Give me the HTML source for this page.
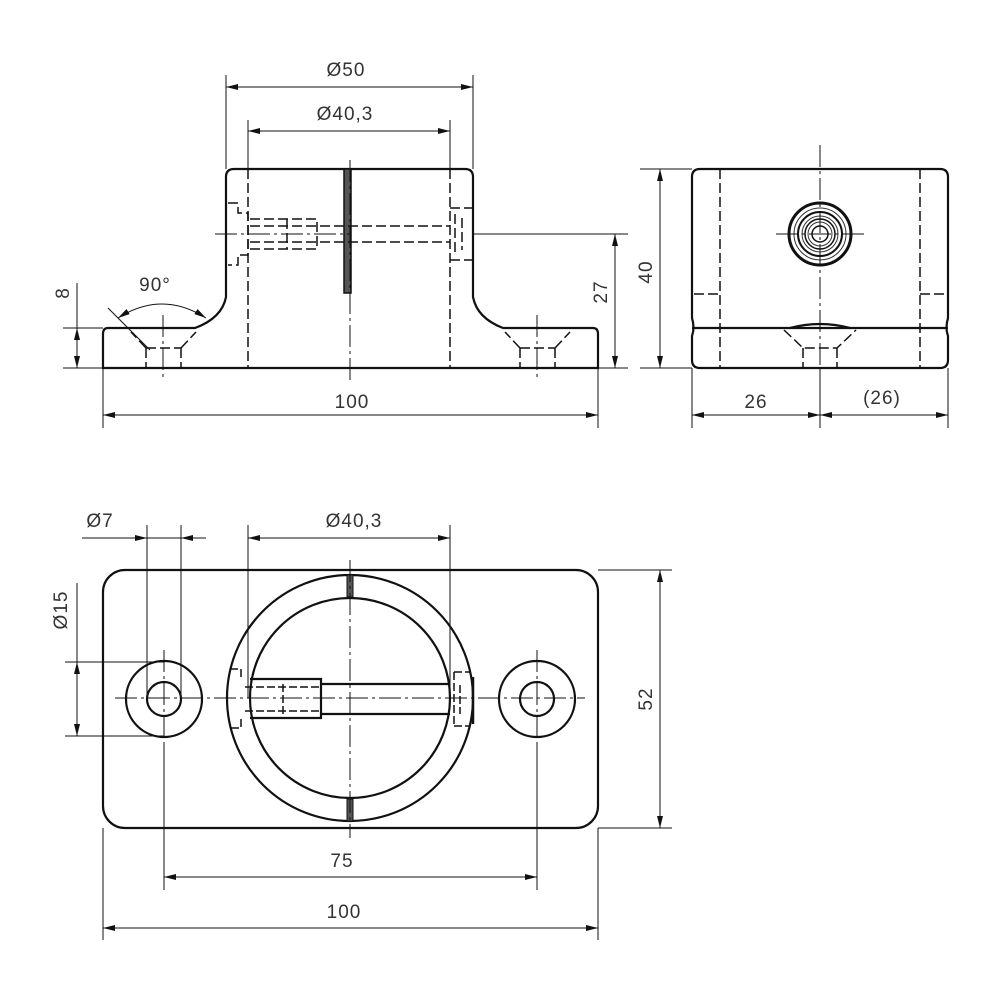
<!DOCTYPE html>
<html><head><meta charset="utf-8"><style>html,body{margin:0;padding:0;background:#fff}svg{display:block}</style></head><body>
<svg width="1000" height="1000" viewBox="0 0 1000 1000" xmlns="http://www.w3.org/2000/svg">
<defs>
<marker id="a" viewBox="0 0 12 6" refX="12" refY="3" markerWidth="12" markerHeight="6" markerUnits="userSpaceOnUse" orient="auto-start-reverse"><path d="M0,0 L12,3 L0,6 z" fill="#111"/></marker>
</defs>
<g fill="none" stroke="#111" font-family="Liberation Sans, sans-serif">
<!-- FRONT VIEW -->
<g stroke-width="2.2">
<path d="M108,328 H195 Q222,318 226,297 V177 Q226,169 234,169 H465 Q473,169 473,177 V297 Q477,318 503,328 H593 Q598,328 598,334 V368 H103 V334 Q103,328 108,328 Z"/>
<rect x="344" y="169" width="7" height="124" fill="#555" stroke-width="1.5"/>
</g>
<g stroke-width="1.5" stroke-dasharray="10,4">
<line x1="248" y1="169" x2="248" y2="368"/><line x1="450" y1="169" x2="450" y2="368"/>
<path d="M250,219 H317 V249 H250 M287,219 V249 M250,226 H450 M250,242 H450"/>
<path d="M228,203 H238 V213 H248 V255 H238 V265 H228"/>
<path d="M450,208 H472 M450,260 H472 M455,214 V254 M462,218 V250"/>
<path d="M146,348 L131,332 M181,348 L196,332 M146,348 H181 M146,348 V368 M181,348 V368"/>
<path d="M520,348 L505,332 M555,348 L570,332 M520,348 H555 M520,348 V368 M555,348 V368"/>
</g>
<g stroke-width="1" stroke-dasharray="22,4,3,4">
<line x1="350" y1="160" x2="350" y2="380"/><line x1="215" y1="234" x2="350" y2="234"/>
<line x1="163" y1="315" x2="163" y2="380"/><line x1="537" y1="315" x2="537" y2="380"/>
</g>
<!-- SIDE VIEW -->
<g stroke-width="2.2">
<path d="M700,169 H940 Q948,169 948,177 V318 Q945,328 948,336 V360 Q948,368 940,368 H700 Q692,368 692,360 V336 Q695,328 692,318 V177 Q692,169 700,169 Z"/>
<path d="M692,328 H948"/>
<path d="M790,328 Q820,320 850,328"/>
<circle cx="820" cy="234" r="31" stroke-width="3"/>
<circle cx="820" cy="234" r="22" stroke-width="2"/>
<circle cx="820" cy="234" r="15" stroke-width="1.5"/>
<circle cx="820" cy="234" r="8" stroke-width="1.5"/>
</g>
<g stroke-width="1" stroke="#333"><circle cx="820" cy="234" r="26"/><circle cx="820" cy="234" r="18"/><circle cx="820" cy="234" r="12"/></g>
<g stroke-width="1.5" stroke-dasharray="10,4">
<line x1="720" y1="169" x2="720" y2="368"/><line x1="920" y1="169" x2="920" y2="368"/>
<line x1="694" y1="294" x2="720" y2="294"/><line x1="920" y1="294" x2="946" y2="294"/>
<path d="M784,330 L803,348 H837 L856,330 M803,348 V368 M837,348 V368"/>
</g>
<g stroke-width="1" stroke-dasharray="22,4,3,4">
<line x1="820" y1="145" x2="820" y2="375"/><line x1="776" y1="234" x2="864" y2="234"/>
</g>
<!-- TOP VIEW -->
<g stroke-width="2.2">
<rect x="103" y="570" width="495" height="258" rx="22"/>
<circle cx="350" cy="698" r="123"/><circle cx="350" cy="698" r="100"/>
<circle cx="164" cy="699" r="38"/><circle cx="164" cy="699" r="17"/>
<circle cx="537" cy="699" r="38"/><circle cx="537" cy="699" r="17"/>
<path d="M250,679 H321 V718 H250 M321,684 H450 M321,714 H450"/>
<rect x="347" y="575" width="6" height="22" fill="#555" stroke-width="1"/>
<rect x="347" y="799" width="6" height="22" fill="#555" stroke-width="1"/>
<path d="M473,677 V724" stroke-width="2.5"/>
</g>
<g stroke-width="1.5" stroke-dasharray="8,3">
<path d="M230,669 H241 V678 M241,719 V728 H230 M245,687 H320 M245,711 H320 M283,684 V715"/>
<path d="M454,672 H470 M454,726 H470 M454,672 V726 M460,685 V714"/>
</g>
<g stroke-width="1" stroke-dasharray="22,4,3,4">
<line x1="350" y1="560" x2="350" y2="838"/><line x1="115" y1="698" x2="585" y2="698"/>
<line x1="164" y1="650" x2="164" y2="745"/><line x1="537" y1="650" x2="537" y2="745"/>
</g>
<!-- DIMENSIONS -->
<g stroke-width="1" marker-start="url(#a)" marker-end="url(#a)">
<line x1="226" y1="87" x2="473" y2="87"/>
<line x1="248" y1="131" x2="450" y2="131"/>
<line x1="615" y1="234" x2="615" y2="368"/>
<line x1="660" y1="169" x2="660" y2="368"/>
<line x1="103" y1="415" x2="598" y2="415"/>
<line x1="692" y1="415" x2="820" y2="415"/>
<line x1="820" y1="415" x2="948" y2="415"/>
<line x1="248" y1="538" x2="450" y2="538"/>
<line x1="660" y1="570" x2="660" y2="828"/>
<line x1="164" y1="877" x2="537" y2="877"/>
<line x1="103" y1="928" x2="598" y2="928"/>
<path d="M118,318 Q162,290 206,318"/>
<line x1="77" y1="328" x2="77" y2="368"/>
</g>
<g stroke-width="1">
<line x1="77" y1="283" x2="77" y2="328"/>
<line x1="226" y1="75" x2="226" y2="169"/><line x1="473" y1="75" x2="473" y2="169"/>
<line x1="248" y1="120" x2="248" y2="169"/><line x1="450" y1="120" x2="450" y2="169"/>
<line x1="473" y1="234" x2="628" y2="234"/><line x1="598" y1="368" x2="628" y2="368"/>
<line x1="640" y1="169" x2="692" y2="169"/><line x1="640" y1="368" x2="692" y2="368"/>
<line x1="63" y1="328" x2="103" y2="328"/><line x1="63" y1="368" x2="103" y2="368"/>
<line x1="103" y1="368" x2="103" y2="428"/><line x1="598" y1="368" x2="598" y2="428"/>
<line x1="692" y1="368" x2="692" y2="428"/><line x1="948" y1="368" x2="948" y2="428"/>
<line x1="820" y1="368" x2="820" y2="428"/>
<line x1="108" y1="308" x2="150" y2="350"/>
<line x1="82" y1="538" x2="206" y2="538"/>
<line x1="147" y1="525" x2="147" y2="699"/><line x1="181" y1="525" x2="181" y2="699"/>
<line x1="248" y1="525" x2="248" y2="698"/><line x1="450" y1="525" x2="450" y2="698"/>
<line x1="65" y1="662" x2="164" y2="662"/><line x1="65" y1="736" x2="164" y2="736"/>
<line x1="77" y1="583" x2="77" y2="662"/>
<line x1="598" y1="570" x2="672" y2="570"/><line x1="598" y1="828" x2="672" y2="828"/>
<line x1="164" y1="745" x2="164" y2="890"/><line x1="537" y1="745" x2="537" y2="890"/>
<line x1="103" y1="828" x2="103" y2="940"/><line x1="598" y1="828" x2="598" y2="940"/>
</g>
<g stroke-width="1" marker-end="url(#a)">
<line x1="82" y1="538" x2="147" y2="538"/><line x1="206" y1="538" x2="181" y2="538"/>
<line x1="77" y1="699" x2="77" y2="662"/><line x1="77" y1="699" x2="77" y2="736"/>
</g>
<g fill="#333" stroke="none" font-size="19" text-anchor="middle" letter-spacing="1">
<text x="346" y="76">Ø50</text>
<text x="345" y="120">Ø40,3</text>
<text x="155" y="291">90°</text>
<text x="352" y="408">100</text>
<text x="756" y="408">26</text>
<text x="882" y="404">(26)</text>
<text x="100" y="527">Ø7</text>
<text x="354" y="527">Ø40,3</text>
<text x="342" y="867">75</text>
<text x="344" y="918">100</text>
<text transform="translate(69,293) rotate(-90)">8</text>
<text transform="translate(607,292) rotate(-90)">27</text>
<text transform="translate(652,272) rotate(-90)">40</text>
<text transform="translate(67,610) rotate(-90)">Ø15</text>
<text transform="translate(652,699) rotate(-90)">52</text>
</g>
</g>
</svg>
</body></html>
